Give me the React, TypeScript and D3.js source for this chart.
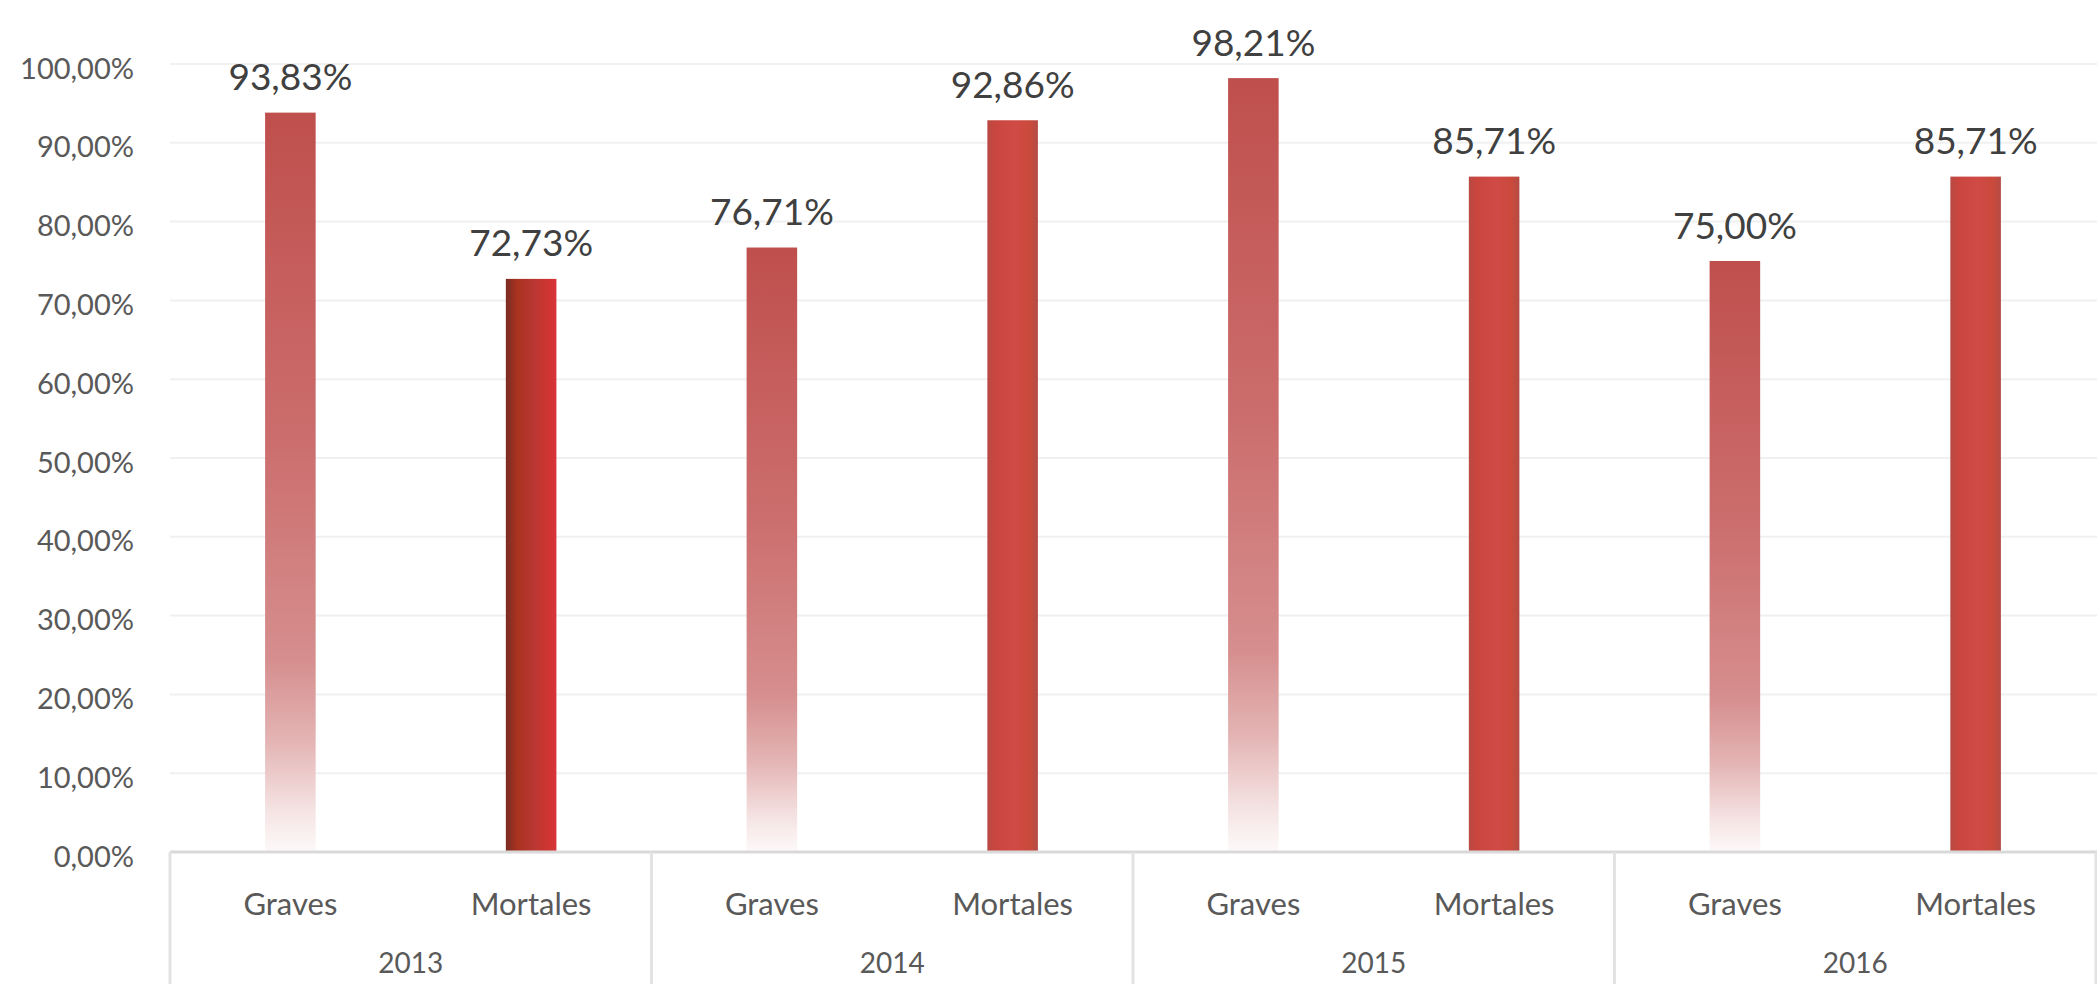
import { formatLocale, scaleBand, scaleLinear } from "d3";

const years = ["2013", "2014", "2015", "2016"];
const types = ["Graves", "Mortales"];
const graves = [93.83, 76.71, 98.21, 75.0];
const mortales = [72.73, 92.86, 85.71, 85.71];
const yTicks = [0, 10, 20, 30, 40, 50, 60, 70, 80, 90, 100];

const WIDTH = 2097;
const HEIGHT = 984;
const PLOT_LEFT = 170;
const PLOT_RIGHT = 2096;
const PLOT_TOP = 64;
const PLOT_BOTTOM = 852;

const esLocale = formatLocale({ decimal: ",", thousands: ".", grouping: [3], currency: ["", " €"] });
const pct = (v: number) => esLocale.format(".2f")(v) + "%";

export default function App() {
  const x0 = scaleBand<string>().domain(years).range([PLOT_LEFT, PLOT_RIGHT]).padding(0);
  const x1 = scaleBand<string>().domain(types).range([0, x0.bandwidth()]).paddingInner(0.79).paddingOuter(0.395);
  const y = scaleLinear().domain([0, 100]).range([PLOT_BOTTOM, PLOT_TOP]);

  const bars = years.flatMap((year, i) => [
    { year, type: "Graves", value: graves[i] },
    { year, type: "Mortales", value: mortales[i] },
  ]);

  // graves fade to white at the base, mortales are solid; the 2013 one is darker
  const fillFor = (type: string, year: string) =>
    type === "Graves" ? "url(#gravesFill)" : year === "2013" ? "url(#mortalesDark)" : "url(#mortalesFill)";

  const font = "Lato, 'Open Sans', sans-serif";

  return (
    <svg
      width={WIDTH}
      height={HEIGHT}
      viewBox={`0 0 ${WIDTH} ${HEIGHT}`}
      style={{ position: "absolute", left: 0, top: 0, display: "block", background: "#fff" }}
    >
      <defs>
        <linearGradient id="gravesFill" x1="0" y1="0" x2="0" y2="1">
          <stop offset="0" stopColor="#bf4f4c" />
          <stop offset="0.45" stopColor="#cc6e6e" />
          <stop offset="0.74" stopColor="#d68e8e" />
          <stop offset="0.85" stopColor="#e4b4b4" />
          <stop offset="0.95" stopColor="#f6e6e6" />
          <stop offset="1" stopColor="#fdf9f9" />
        </linearGradient>
        <linearGradient id="mortalesFill" x1="0" y1="0" x2="1" y2="0">
          <stop offset="0" stopColor="#b84a44" />
          <stop offset="0.15" stopColor="#c9463f" />
          <stop offset="0.55" stopColor="#d04a46" />
          <stop offset="0.85" stopColor="#c94a3c" />
          <stop offset="1" stopColor="#b44b45" />
        </linearGradient>
        <linearGradient id="mortalesDark" x1="0" y1="0" x2="1" y2="0">
          <stop offset="0" stopColor="#7a2c24" />
          <stop offset="0.22" stopColor="#a8321f" />
          <stop offset="0.55" stopColor="#b93733" />
          <stop offset="0.8" stopColor="#cc3530" />
          <stop offset="1" stopColor="#d8343a" />
        </linearGradient>
      </defs>

      {yTicks.map((t) => (
        <g key={t}>
          {t > 0 ? (
            <line x1={PLOT_LEFT} x2={WIDTH} y1={y(t)} y2={y(t)} stroke="#f0f0f0" strokeWidth={2} />
          ) : null}
          <text
            x={134}
            y={y(t) + 3}
            textAnchor="end"
            dominantBaseline="central"
            fontFamily={font}
            fontSize={29}
            fill="#595959"
          >
            {pct(t)}
          </text>
        </g>
      ))}

      {bars.map((b) => {
        const bx = (x0(b.year) ?? 0) + (x1(b.type) ?? 0);
        return (
          <rect
            key={b.year + b.type}
            x={bx}
            y={y(b.value)}
            width={x1.bandwidth()}
            height={y(0) - y(b.value)}
            fill={fillFor(b.type, b.year)}
          />
        );
      })}

      {bars.map((b) => {
        const cx = (x0(b.year) ?? 0) + (x1(b.type) ?? 0) + x1.bandwidth() / 2;
        return (
          <text
            key={"l" + b.year + b.type}
            x={cx}
            y={y(b.value) - 37}
            textAnchor="middle"
            dominantBaseline="central"
            fontFamily={font}
            fontSize={37}
            fill="#404040"
          >
            {pct(b.value)}
          </text>
        );
      })}

      <line x1={PLOT_LEFT} x2={WIDTH} y1={y(0)} y2={y(0)} stroke="#d9d9d9" strokeWidth={3} />

      {years.map((year) => (
        <line
          key={"sep" + year}
          x1={x0(year) ?? 0}
          x2={x0(year) ?? 0}
          y1={y(0)}
          y2={HEIGHT}
          stroke="#e3e3e3"
          strokeWidth={3}
        />
      ))}
      <line x1={PLOT_RIGHT} x2={PLOT_RIGHT} y1={y(0)} y2={HEIGHT} stroke="#e3e3e3" strokeWidth={3} />

      {years.map((year) => (
        <g key={"cat" + year}>
          {types.map((type) => (
            <text
              key={type}
              x={(x0(year) ?? 0) + (x1(type) ?? 0) + x1.bandwidth() / 2}
              y={903}
              textAnchor="middle"
              dominantBaseline="central"
              fontFamily={font}
              fontSize={31}
              fill="#595959"
            >
              {type}
            </text>
          ))}
          <text
            x={(x0(year) ?? 0) + x0.bandwidth() / 2}
            y={962}
            textAnchor="middle"
            dominantBaseline="central"
            fontFamily={font}
            fontSize={28}
            fill="#595959"
          >
            {year}
          </text>
        </g>
      ))}
    </svg>
  );
}
